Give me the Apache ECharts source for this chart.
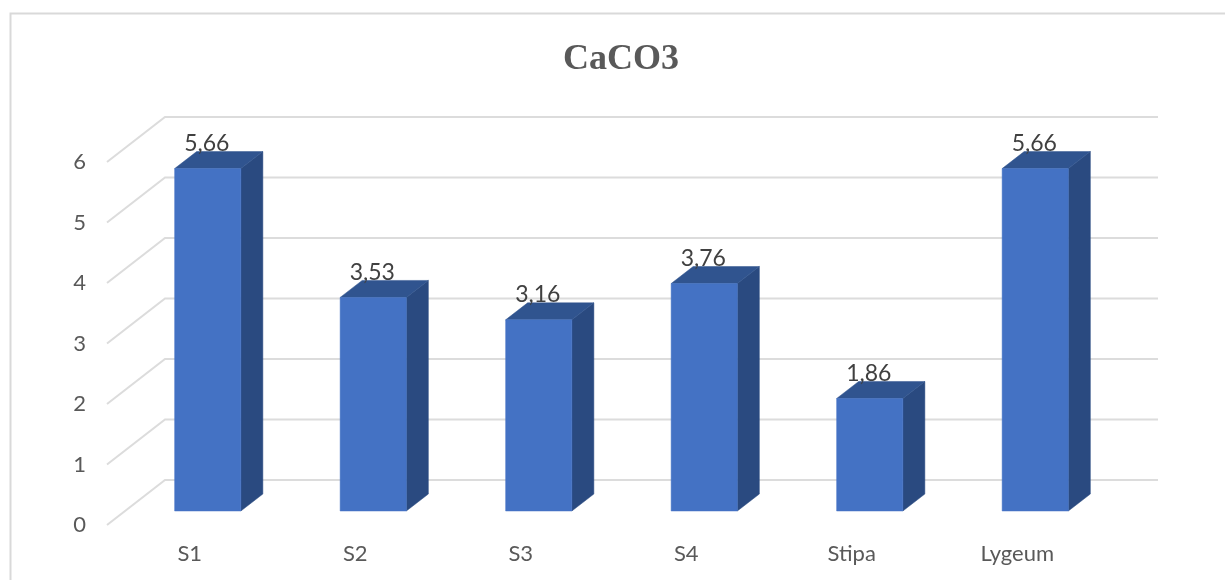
<!DOCTYPE html>
<html>
<head>
<meta charset="utf-8">
<title>CaCO3</title>
<style>
  html, body { margin: 0; padding: 0; background: #fff; }
  #chart { width: 1225px; height: 580px; }
</style>
<script src="https://cdn.jsdelivr.net/npm/echarts@6/dist/echarts.min.js"></script>
</head>
<body>
<div id="chart"></div>
<script>
// CaCO3 content per sample
const categories = ['S1', 'S2', 'S3', 'S4', 'Stipa', 'Lygeum'];
const values = [5.66, 3.53, 3.16, 3.76, 1.86, 5.66];
const yTicks = [0, 1, 2, 3, 4, 5, 6];

// Oblique projection: axes sit on the front edge of the floor,
// bars stand part-way in, and the wall lines run along the back.
const BAR_SHIFT = [18, -14];
const BAR_DEPTH = [22, -17];
const WALL_DEPTH = [58, -45];
const BAR_RATIO = 0.4;

const COLORS = {
  front: '#4472c4',
  side: '#2a4a80',
  top: '#30548f',
  grid: '#dcdcdc',
  text: '#595959',
  value: '#404040'
};

function renderWall(params, api) {
  const cs = params.coordSys;
  const y = api.coord([0, api.value(0)])[1];
  return {
    type: 'polyline',
    shape: {
      points: [
        [cs.x, y],
        [cs.x + WALL_DEPTH[0], y + WALL_DEPTH[1]],
        [cs.x + cs.width + WALL_DEPTH[0], y + WALL_DEPTH[1]]
      ]
    },
    style: { fill: 'none', stroke: COLORS.grid, lineWidth: 2 },
    silent: true
  };
}

function renderBar(params, api) {
  const v = api.value(1);
  const top = api.coord([api.value(0), v]);
  const base = api.coord([api.value(0), 0]);
  const w = api.size([1, 0])[0] * BAR_RATIO;
  const l = top[0] + BAR_SHIFT[0] - w / 2;
  const r = l + w;
  const t = top[1] + BAR_SHIFT[1];
  const b = base[1] + BAR_SHIFT[1];
  const dx = BAR_DEPTH[0];
  const dy = BAR_DEPTH[1];
  const poly = (points, fill) => ({
    type: 'polygon',
    shape: { points },
    style: { fill, stroke: fill, lineWidth: 0.5 }
  });
  return {
    type: 'group',
    children: [
      poly([[r, t], [r + dx, t + dy], [r + dx, b + dy], [r, b]], COLORS.side),
      poly([[l, t], [l + dx, t + dy], [r + dx, t + dy], [r, t]], COLORS.top),
      poly([[l, t], [r, t], [r, b], [l, b]], COLORS.front),
      {
        type: 'text',
        style: {
          text: v.toFixed(2).replace('.', ','),
          x: (l + r) / 2 - 1,
          y: t - 25,
          align: 'center',
          verticalAlign: 'middle',
          fill: COLORS.value,
          font: '23px Lato'
        }
      }
    ]
  };
}

const chart = echarts.init(document.getElementById('chart'), null, { renderer: 'canvas' });
chart.setOption({
  animation: false,
  backgroundColor: '#ffffff',
  title: {
    text: 'CaCO3',
    left: 616,
    top: 37,
    textAlign: 'center',
    textStyle: {
      fontFamily: 'Liberation Serif',
      fontWeight: 'bold',
      fontSize: 36,
      color: COLORS.text
    }
  },
  grid: { left: 107, top: 162, width: 993, height: 363, containLabel: false },
  xAxis: {
    type: 'category',
    data: categories,
    axisLine: { show: false },
    axisTick: { show: false },
    axisLabel: { color: COLORS.text, fontFamily: 'Lato', fontSize: 22, margin: 18 }
  },
  yAxis: {
    type: 'value',
    min: 0,
    max: 6,
    interval: 1,
    axisLine: { show: false },
    axisTick: { show: false },
    splitLine: { show: false },
    axisLabel: { color: COLORS.text, fontFamily: 'Lato', fontSize: 22, margin: 21 }
  },
  graphic: [{
    type: 'polyline',
    shape: { points: [[10.5, 580], [10.5, 13.5], [1225, 13.5]] },
    style: { fill: 'none', stroke: '#d9d9d9', lineWidth: 2 },
    silent: true
  }],
  series: [
    {
      type: 'custom',
      z: 1,
      clip: false,
      silent: true,
      data: yTicks.map(v => [v]),
      encode: { y: 0 },
      renderItem: renderWall
    },
    {
      type: 'custom',
      z: 2,
      clip: false,
      silent: true,
      data: values.map((v, i) => [i, v]),
      encode: { x: 0, y: 1 },
      renderItem: renderBar
    }
  ]
});
</script>
</body>
</html>
